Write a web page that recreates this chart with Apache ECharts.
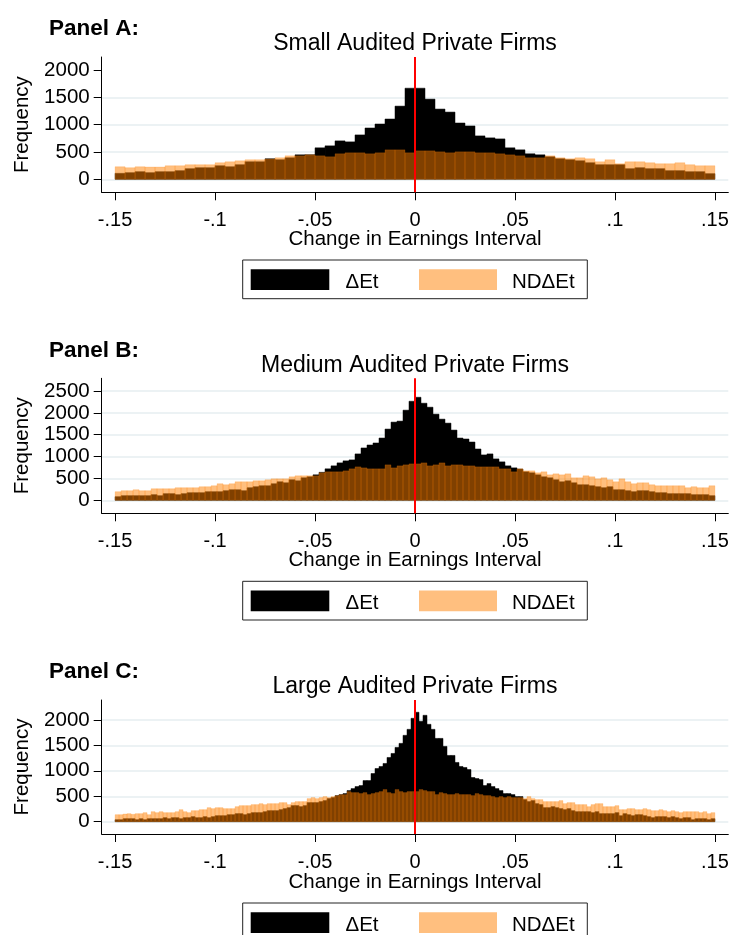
<!DOCTYPE html>
<html>
<head>
<meta charset="utf-8">
<script src="https://cdn.jsdelivr.net/npm/echarts@6/dist/echarts.min.js"></script>
<style>html,body{margin:0;padding:0;background:#fff}#c{width:733px;height:935px}</style>
</head>
<body>
<div id="c"></div>
<script>
// ---------- data ----------
const xTickValues = [-0.15, -0.1, -0.05, 0, 0.05, 0.1, 0.15];
const xTickLabels = ['-.15', '-.1', '-.05', '0', '.05', '.1', '.15'];
const binStart = -0.15;

const panelLabels = ['Panel A:', 'Panel B:', 'Panel C:'];
const panelTitles = ['Small Audited Private Firms', 'Medium Audited Private Firms', 'Large Audited Private Firms'];
const seriesNames = ['\u0394Et', 'ND\u0394Et'];
const xTitle = 'Change in Earnings Interval';
const yTitle = 'Frequency';

// Panel A: 60 bins of width .005
const smallBinWidth = 0.005;
const smallDE = [109,121,139,121,139,139,158,194,212,212,248,230,267,321,321,376,358,394,448,450,576,612,703,685,812,939,1012,1103,1339,1667,
                 1667,1467,1285,1230,1030,976,794,758,739,576,539,467,448,412,376,358,339,303,267,267,267,194,212,194,194,158,158,139,139,103];
const smallND = [230,212,230,224,224,248,248,267,267,267,303,321,339,358,358,370,394,430,430,448,430,412,467,485,485,467,485,539,539,485,
                 521,521,503,485,503,503,485,485,467,448,430,394,394,430,394,376,394,376,321,358,285,321,321,303,285,285,303,267,248,248];
const smallYTicks = [0, 500, 1000, 1500, 2000];
const smallYGrid = [0, 500, 1000, 1500];

// Panel B: 100 bins of width .003
const mediumBinWidth = 0.003;
const mediumDE = [83,106,106,106,106,106,129,106,152,152,129,152,174,174,174,197,197,197,220,242,
                  242,220,288,311,333,333,379,424,401,470,447,515,538,583,640,720,788,856,902,924,
                  1061,1197,1265,1311,1424,1629,1788,1811,2061,2265,2356,2220,2129,1970,1856,1765,1606,1424,1402,1333,
                  1174,1038,1061,947,879,788,742,715,652,629,583,538,515,470,424,447,401,356,356,333,
                  311,288,311,242,242,220,197,220,220,197,174,174,152,152,152,152,129,129,129,106];
const mediumND = [197,220,220,242,220,220,265,265,265,265,288,288,288,288,311,311,333,379,356,379,
                  424,424,424,447,447,470,492,492,492,538,561,561,561,561,629,652,652,652,674,720,
                  765,742,720,720,720,811,742,788,811,833,833,856,788,811,856,788,811,811,788,788,
                  765,765,765,765,720,720,652,720,674,674,629,652,583,606,583,606,515,515,561,538,
                  492,515,470,424,492,424,379,401,401,356,333,333,333,333,333,288,311,288,288,333];
const mediumYTicks = [0, 500, 1000, 1500, 2000, 2500];
const mediumYGrid = [0, 500, 1000, 1500, 2000, 2500];

// Panel C: 150 bins of width .002
const largeBinWidth = 0.002;
const largeDE = [39,39,59,59,59,39,59,39,59,59, 59,59,79,59,79,79,59,79,79,99,
                 79,79,99,79,99,118,118,118,138,138, 158,158,138,158,178,178,178,197,217,217,
                 217,237,257,276,316,316,296,316,375,375, 375,395,415,454,474,513,533,553,612,651,
                 691,711,809,809,948,1046,1086,1145,1263,1342, 1461,1540,1698,1816,2033,2152,1974,2092,1915,1816,
                 1638,1638,1481,1303,1303,1165,1086,1066,1026,869, 849,829,711,750,691,651,612,553,553,533,
                 494,494,434,395,415,355,336,276,276,296, 276,257,237,257,217,197,197,197,197,178,
                 197,158,158,158,158,178,118,158,138,118, 138,138,118,99,79,99,99,99,79,99,
                 79,59,79,79,39,59,59,59,39,59];
const largeND = [138,138,151,158,145,158,158,178,138,197, 178,197,178,178,178,197,237,197,178,217,
                 217,237,237,276,257,276,276,257,257,257, 296,316,316,316,336,336,355,336,355,355,
                 355,375,375,336,375,395,395,395,454,474, 454,474,494,474,494,510,530,533,592,572,
                 572,553,572,533,553,572,592,632,572,553, 632,592,572,592,592,592,632,612,592,592,
                 533,572,553,533,533,553,533,533,533,513, 553,533,513,513,494,474,494,474,494,474,
                 474,474,454,494,454,434,434,395,395,395, 395,415,355,375,375,336,336,336,296,336,
                 355,355,296,296,296,316,237,237,257,257, 237,237,257,237,217,217,237,217,197,217,
                 197,178,197,197,197,197,178,197,158,178];
const largeYTicks = [0, 500, 1000, 1500, 2000];
const largeYGrid = [0, 500, 1000, 1500, 2000];

// ---------- layout / style ----------
const FONT = '"Liberation Sans", Arial, Helvetica, sans-serif';
const ORANGE = 'rgba(255,128,0,0.5)';
const panels = [
  {de: smallDE, nd: smallND, w: smallBinWidth, ticks: smallYTicks, grid: smallYGrid, yMin: -238, yMax: 2238, off: 0, top: 57, height: 135.3},
  {de: mediumDE, nd: mediumND, w: mediumBinWidth, ticks: mediumYTicks, grid: mediumYGrid, yMin: -297, yMax: 2790, off: 321.3, top: 378.3, height: 135},
  {de: largeDE, nd: largeND, w: largeBinWidth, ticks: largeYTicks, grid: largeYGrid, yMin: -242, yMax: 2393, off: 643, top: 700, height: 134}
];

function toBins(vals, w) {
  return vals.map((v, i) => [binStart + i * w, binStart + (i + 1) * w, v]);
}
function barRenderer(fill, stroke, lw) {
  return function (params, api) {
    const a = api.coord([api.value(0), api.value(2)]);
    const b = api.coord([api.value(1), 0]);
    return {
      type: 'rect',
      shape: {x: a[0], y: a[1], width: b[0] - a[0], height: b[1] - a[1]},
      style: {fill: fill, stroke: stroke, lineWidth: lw}
    };
  };
}

const grids = [], xAxes = [], yAxes = [], series = [], graphics = [];
panels.forEach((p, i) => {
  grids.push({left: 101.7, right: 4.7, top: p.top, height: p.height});
  xAxes.push({
    gridIndex: i, type: 'value', min: -0.1567, max: 0.1567,
    axisLine: {show: true, onZero: false, lineStyle: {color: '#000', width: 1}},
    axisTick: {show: true, length: 8, lineStyle: {color: '#000', width: 1}, customValues: xTickValues},
    axisLabel: {customValues: xTickValues, margin: 18, fontSize: 20, fontFamily: FONT, color: '#000',
      formatter: v => { const k = xTickValues.findIndex(t => Math.abs(t - v) < 1e-9); return k >= 0 ? xTickLabels[k] : ''; }},
    splitLine: {show: false}
  });
  yAxes.push({
    gridIndex: i, type: 'value', min: p.yMin, max: p.yMax,
    axisLine: {show: true, onZero: false, lineStyle: {color: '#000', width: 1}},
    axisTick: {show: true, length: 8, lineStyle: {color: '#000', width: 1}, customValues: p.ticks},
    axisLabel: {customValues: p.ticks, margin: 12, fontSize: 20.5, fontFamily: FONT, color: '#000',
      formatter: v => String(Math.round(v))},
    splitLine: {show: false}
  });
  yAxes.push({
    gridIndex: i, type: 'value', min: p.yMin, max: p.yMax,
    axisLine: {show: false}, axisLabel: {show: false},
    axisTick: {show: false, customValues: p.grid},
    splitLine: {show: true, lineStyle: {color: '#E6EEF0', width: 1.6}}
  });
  const yIdx = i * 2;
  series.push({
    type: 'custom', name: seriesNames[0], xAxisIndex: i, yAxisIndex: yIdx,
    renderItem: barRenderer('#000', '#000', 0.5), encode: {x: [0, 1], y: 2},
    data: toBins(p.de, p.w), z: 2
  });
  series.push({
    type: 'custom', name: seriesNames[1], xAxisIndex: i, yAxisIndex: yIdx,
    renderItem: barRenderer(ORANGE, 'rgba(255,128,0,0.4)', 0.5), encode: {x: [0, 1], y: 2},
    data: toBins(p.nd, p.w), z: 3,
    markLine: {silent: true, symbol: 'none', label: {show: false}, animation: false,
      lineStyle: {color: '#ff0000', width: 2, type: 'solid'}, data: [{xAxis: 0}]}
  });

  const o = p.off;
  graphics.push({type: 'text', x: 49, y: 29 + o,
    style: {text: panelLabels[i], fontSize: 22.5, fontWeight: 'bold', fontFamily: FONT, fill: '#000', align: 'left', verticalAlign: 'middle'}});
  graphics.push({type: 'text', x: 415, y: 44 + o,
    style: {text: panelTitles[i], fontSize: 23, fontFamily: FONT, fill: '#000', align: 'center', verticalAlign: 'middle'}});
  graphics.push({type: 'text', x: 22, y: p.top + p.height / 2, rotation: Math.PI / 2,
    style: {text: yTitle, fontSize: 20.5, fontFamily: FONT, fill: '#000', align: 'center', verticalAlign: 'middle'}});
  graphics.push({type: 'text', x: 415, y: 239.5 + o,
    style: {text: xTitle, fontSize: 20.5, fontFamily: FONT, fill: '#000', align: 'center', verticalAlign: 'middle'}});
  // legend
  graphics.push({type: 'rect', shape: {x: 242.7, y: 260 + o, width: 344.6, height: 38.7},
    style: {fill: '#fff', stroke: '#222', lineWidth: 1}});
  graphics.push({type: 'rect', shape: {x: 250.7, y: 269.3 + o, width: 78.6, height: 20.7}, style: {fill: '#000'}});
  graphics.push({type: 'text', x: 345.5, y: 282 + o,
    style: {text: seriesNames[0], fontSize: 20.5, fontFamily: FONT, fill: '#000', align: 'left', verticalAlign: 'middle'}});
  graphics.push({type: 'rect', shape: {x: 419, y: 269.3 + o, width: 78, height: 20.7}, style: {fill: ORANGE}});
  graphics.push({type: 'text', x: 512, y: 282 + o,
    style: {text: seriesNames[1], fontSize: 20.5, fontFamily: FONT, fill: '#000', align: 'left', verticalAlign: 'middle'}});
});

const chart = echarts.init(document.getElementById('c'), null, {renderer: 'canvas'});
chart.setOption({
  animation: false,
  backgroundColor: '#fff',
  grid: grids, xAxis: xAxes, yAxis: yAxes, series: series,
  graphic: graphics
});
</script>
</body>
</html>
